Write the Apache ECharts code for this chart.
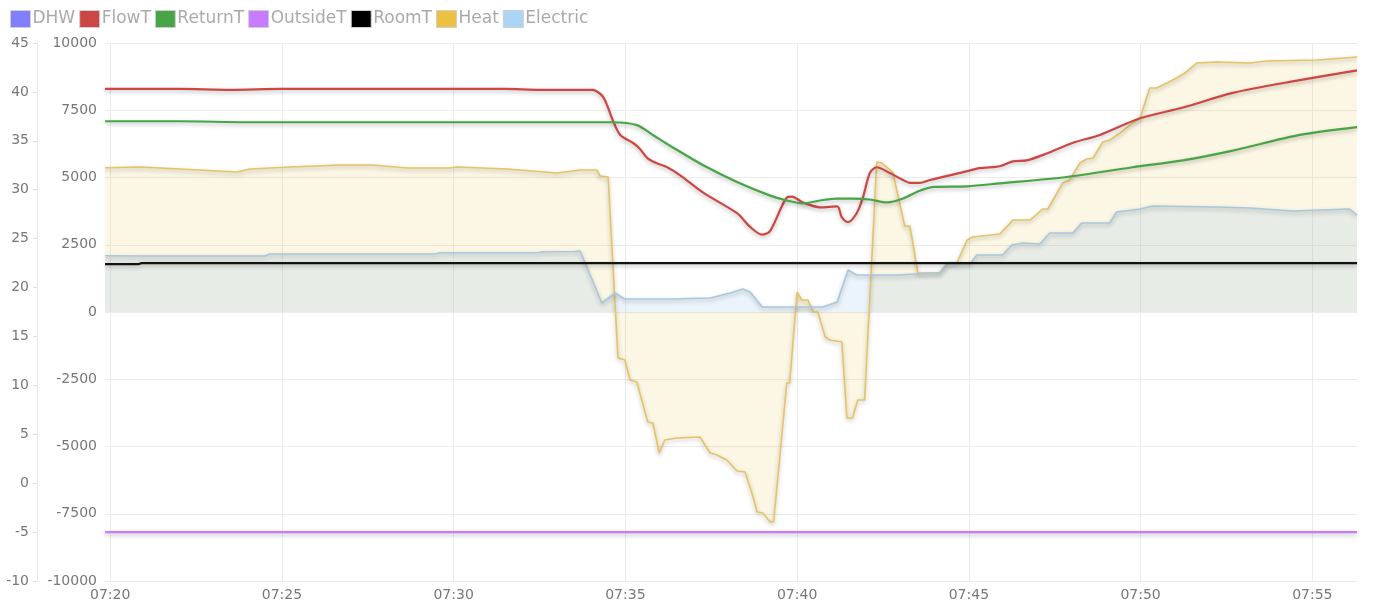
<!DOCTYPE html>
<html><head><meta charset="utf-8">
<script src="https://cdn.jsdelivr.net/npm/echarts@6/dist/echarts.min.js"></script>
<style>html,body{margin:0;padding:0;background:#fff}#c{width:1381px;height:611px}</style>
</head><body><div id="c"></div><script>
const seriesNames = ['DHW','FlowT','ReturnT','OutsideT','RoomT','Heat','Electric'];
const xMin = '07:19:51';
const xMax = '07:56:18';
const xTickLabels = ['07:20','07:25','07:30','07:35','07:40','07:45','07:50','07:55'];

const flowTimes = ['07:19:51','07:22:00','07:23:30','07:25:00','07:28:00','07:30:00','07:31:30','07:32:30','07:33:30','07:34:02','07:34:21','07:34:38','07:34:51','07:35:13','07:35:25','07:35:39','07:35:55','07:36:13','07:36:35','07:37:16','07:38:15','07:38:38','07:38:59','07:39:13','07:39:42','07:39:51','07:40:10','07:40:40','07:41:10','07:41:18','07:41:29','07:41:44','07:41:55','07:42:07','07:42:19','07:42:42','07:43:05','07:43:17','07:43:34','07:43:52','07:44:50','07:45:19','07:45:54','07:46:17','07:46:41','07:47:16','07:48:02','07:48:49','07:49:59','07:51:14','07:52:41','07:54:38','07:56:18'];
const flowValues = [40.3,40.3,40.2,40.3,40.3,40.3,40.3,40.2,40.2,40.2,39.5,37.1,35.6,34.8,34.2,33.2,32.7,32.3,31.5,29.7,27.6,26.2,25.4,25.8,29.2,29.3,28.7,28.2,28.3,27.2,26.7,27.6,29.2,31.7,32.3,31.7,31.0,30.7,30.7,31.0,31.8,32.2,32.4,32.9,33.0,33.7,34.8,35.6,37.3,38.4,39.9,41.2,42.2];

const returnTimes = ['07:19:51','07:22:00','07:24:00','07:27:00','07:30:00','07:33:00','07:34:38','07:35:20','07:35:48','07:36:18','07:37:16','07:38:15','07:39:13','07:39:42','07:40:10','07:40:40','07:41:10','07:41:37','07:42:07','07:42:37','07:43:05','07:43:34','07:44:00','07:44:57','07:45:54','07:47:51','07:49:46','07:51:14','07:52:41','07:54:38','07:56:18'];
const returnValues = [37.0,37.0,36.9,36.9,36.9,36.9,36.9,36.6,35.6,34.5,32.5,30.8,29.4,28.9,28.6,28.9,29.1,29.1,29.0,28.7,29.1,29.9,30.3,30.35,30.65,31.3,32.3,33.0,34.0,35.6,36.4];

const outsideTimes = ['07:19:51','07:30:00','07:40:00','07:50:00','07:56:18'];
const outsideValues = [-5.0,-5.0,-5.0,-5.0,-5.0];

const roomTimes = ['07:19:51','07:20:50','07:20:55','07:40:00','07:56:18'];
const roomValues = [22.4,22.4,22.5,22.5,22.5];

const heatTimes = ['07:19:51','07:20:52','07:22:02','07:23:42','07:24:04','07:25:14','07:26:42','07:27:39','07:28:39','07:29:54','07:30:06','07:31:33','07:33:01','07:33:41','07:34:10','07:34:16','07:34:30','07:34:47','07:34:59','07:35:08','07:35:20','07:35:39','07:35:48','07:35:59','07:36:09','07:36:30','07:37:10','07:37:28','07:37:40','07:37:57','07:38:15','07:38:29','07:38:41','07:38:50','07:39:00','07:39:13','07:39:19','07:39:42','07:39:47','07:40:00','07:40:08','07:40:19','07:40:28','07:40:36','07:40:49','07:40:57','07:41:18','07:41:27','07:41:37','07:41:46','07:41:58','07:42:19','07:42:28','07:42:47','07:43:08','07:43:17','07:43:31','07:44:09','07:44:23','07:44:39','07:44:57','07:45:07','07:45:54','07:46:17','07:46:47','07:47:09','07:47:18','07:47:34','07:47:44','07:47:56','07:48:14','07:48:26','07:48:37','07:48:54','07:49:06','07:49:24','07:49:41','07:49:59','07:50:16','07:50:28','07:50:46','07:51:03','07:51:17','07:51:38','07:52:13','07:53:11','07:53:40','07:55:08','07:56:18'];
const heatValues = [5364,5390,5315,5204,5315,5390,5464,5464,5352,5352,5390,5315,5167,5278,5278,5055,5018,-1710,-1784,-2528,-2602,-4089,-4126,-5241,-4758,-4683,-4646,-5241,-5315,-5501,-5910,-5947,-6728,-7434,-7471,-7806,-7806,-2639,-2639,743,446,446,0,0,-929,-1041,-1115,-3940,-3940,-3271,-3271,5576,5538,5204,3197,3197,1450,1450,1821,1821,2676,2788,2899,3420,3420,3829,3829,4423,4795,4906,5538,5687,5724,6319,6393,6653,6951,7211,8326,8326,8512,8698,8884,9255,9293,9255,9330,9367,9478];

const elecTimes = ['07:19:51','07:20:52','07:24:30','07:24:39','07:29:28','07:29:36','07:32:27','07:32:36','07:33:32','07:33:41','07:34:19','07:34:42','07:34:59','07:36:18','07:37:28','07:38:03','07:38:25','07:38:38','07:38:59','07:40:45','07:41:10','07:41:29','07:41:44','07:42:54','07:44:04','07:44:09','07:44:22','07:45:02','07:45:14','07:45:59','07:46:15','07:46:34','07:47:04','07:47:21','07:48:02','07:48:17','07:49:06','07:49:18','07:49:59','07:50:21','07:52:13','07:53:11','07:54:26','07:56:05','07:56:18'];
const elecValues = [2093,2082,2082,2156,2156,2204,2204,2241,2249,2267,335,706,483,483,520,706,855,743,186,186,372,1561,1375,1375,1450,1450,1784,1784,2119,2119,2490,2565,2528,2936,2936,3308,3308,3717,3829,3940,3903,3866,3754,3829,3605];

const tempTicks = {min: -10, max: 45, interval: 5};
const powerTicks = {min: -10000, max: 10000, interval: 2500};

// seconds since midnight
function ts(s){const p=s.split(':').map(Number);return p[0]*3600+p[1]*60+(p[2]||0);}
function pairs(times, vals){return times.map((t,i)=>[ts(t), vals[i]]);}
function fmtTime(v){const h=Math.floor(v/3600), m=Math.floor((v%3600)/60);return String(h).padStart(2,'0')+':'+String(m).padStart(2,'0');}
const xTickValues = xTickLabels.map(ts);

const FONT = 'DejaVu Sans';
const shadow = {shadowColor:'rgba(0,0,0,0.28)', shadowBlur:4, shadowOffsetY:2};
const chart = echarts.init(document.getElementById('c'), null, {renderer:'canvas'});
chart.setOption({
  animation:false,
  backgroundColor:'#fff',
  legend:{left:5, top:5, icon:'rect', itemWidth:20, itemHeight:17, itemGap:4,
    itemStyle:{borderColor:'#cfcfcf', borderWidth:1},
    textStyle:{color:'#aaa', fontSize:17, fontFamily:FONT, padding:[0,0,0,-3]},
    data:seriesNames},
  grid:{left:105, right:24, top:43, bottom:30, containLabel:false},
  xAxis:{type:'value', min:ts(xMin), max:ts(xMax),
    axisLine:{show:false},
    axisTick:{show:false, customValues:xTickValues},
    splitLine:{show:true, lineStyle:{color:'#ebebeb'}},
    axisLabel:{customValues:xTickValues, formatter:fmtTime,
      color:'#777', fontSize:14, fontFamily:FONT, margin:7}},
  yAxis:[
    {type:'value', position:'left', offset:68, min:tempTicks.min, max:tempTicks.max, interval:tempTicks.interval,
      axisLine:{show:true, lineStyle:{color:'#e8e8e8'}}, axisTick:{show:true, length:4, lineStyle:{color:'#e0e0e0'}},
      splitLine:{show:false}, axisLabel:{color:'#777', fontSize:14, fontFamily:FONT, margin:8, formatter:v=>String(v)}},
    {type:'value', position:'left', offset:0, min:powerTicks.min, max:powerTicks.max, interval:powerTicks.interval,
      axisLine:{show:false}, axisTick:{show:false},
      splitLine:{show:true, lineStyle:{color:'#ebebeb'}}, axisLabel:{color:'#777', fontSize:14, fontFamily:FONT, margin:8, formatter:v=>String(v)}}
  ],
  series:[
    {name:'DHW', type:'line', yAxisIndex:0, color:'#8080ff', data:[], symbol:'none'},
    {name:'FlowT', type:'line', yAxisIndex:0, color:'#cc4744', symbol:'none', smooth:0.3,
      lineStyle:Object.assign({width:2.2, color:'#cc4744'}, shadow), data:pairs(flowTimes, flowValues), z:5},
    {name:'ReturnT', type:'line', yAxisIndex:0, color:'#48a547', symbol:'none', smooth:0.3,
      lineStyle:Object.assign({width:2.2, color:'#48a547'}, shadow), data:pairs(returnTimes, returnValues), z:5},
    {name:'OutsideT', type:'line', yAxisIndex:0, color:'#c77cff', symbol:'none',
      lineStyle:Object.assign({width:2.2, color:'#c77cff'}, shadow), data:pairs(outsideTimes, outsideValues), z:5},
    {name:'RoomT', type:'line', yAxisIndex:0, color:'#000', symbol:'none',
      lineStyle:Object.assign({width:2.2, color:'#111'}, shadow), data:pairs(roomTimes, roomValues), z:5},
    {name:'Heat', type:'line', yAxisIndex:1, color:'#ecc040', symbol:'none',
      lineStyle:Object.assign({width:1.6, color:'#e6c463'}, shadow),
      areaStyle:{color:'rgba(236,192,64,0.2)', origin:0}, data:pairs(heatTimes, heatValues), z:3},
    {name:'Electric', type:'line', yAxisIndex:1, color:'#acd5f5', symbol:'none',
      lineStyle:Object.assign({width:1.6, color:'#a8c8de'}, shadow),
      areaStyle:{color:'rgba(160,200,240,0.3)', origin:0}, data:pairs(elecTimes, elecValues), z:3}
  ]
});
</script></body></html>
